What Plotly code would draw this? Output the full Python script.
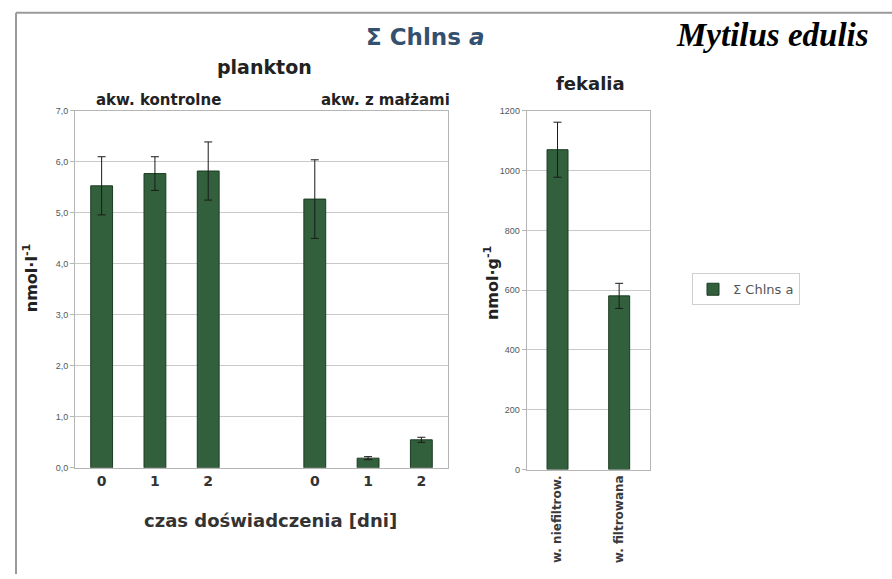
import plotly.graph_objects as go

# --- data -------------------------------------------------------------
days = ["0", "1", "2"]
control_vals = [5.53, 5.77, 5.82]
control_err = [0.57, 0.33, 0.57]
mussel_vals = [5.27, 0.19, 0.55]
mussel_err = [0.77, 0.03, 0.05]

feces_cats = ["w. niefiltrow.", "w. filtrowana"]
feces_vals = [1070, 581]
feces_err = [92, 42]

plankton_ticks = [0, 1, 2, 3, 4, 5, 6, 7]
plankton_ticktext = ["0,0", "1,0", "2,0", "3,0", "4,0", "5,0", "6,0", "7,0"]
feces_ticks = [0, 200, 400, 600, 800, 1000, 1200]

W, H = 892, 579
BAR = "#33603c"
EDGE = "#1c3a22"
SANS = "DejaVu Sans, Arial, sans-serif"
ARIAL = "Arial, Liberation Sans, sans-serif"


def px(x):
    return x / W


def py(y):
    return 1 - y / H


# control tanks occupy slots 0-2, mussel tanks slots 4-6 (slot 3 left empty)
x_control = list(range(len(days)))
x_mussel = [i + len(days) + 1 for i in range(len(days))]

fig = go.Figure()

err_style = dict(type="data", visible=True, color="#1a1a1a", thickness=1, width=4)

fig.add_trace(go.Bar(
    x=x_control, y=control_vals, width=0.41,
    error_y=dict(array=control_err, **err_style),
    marker=dict(color=BAR, line=dict(color=EDGE, width=1)),
    name="\u03a3 Chlns a", legendgroup="c", showlegend=True,
    xaxis="x", yaxis="y",
))
fig.add_trace(go.Bar(
    x=x_mussel, y=mussel_vals, width=0.41,
    error_y=dict(array=mussel_err, **err_style),
    marker=dict(color=BAR, line=dict(color=EDGE, width=1)),
    name="\u03a3 Chlns a", legendgroup="c", showlegend=False,
    xaxis="x", yaxis="y",
))
fig.add_trace(go.Bar(
    x=feces_cats, y=feces_vals, width=0.34,
    error_y=dict(array=feces_err, **err_style),
    marker=dict(color=BAR, line=dict(color=EDGE, width=1)),
    name="\u03a3 Chlns a", legendgroup="c", showlegend=False,
    xaxis="x2", yaxis="y2",
))

axis_line = "#b5b5b5"
grid = "#c9c9c9"
tick_font = dict(family=ARIAL, size=9, color="#555")

fig.update_layout(
    width=W, height=H,
    margin=dict(l=0, r=0, t=0, b=0),
    paper_bgcolor="white", plot_bgcolor="white",
    font=dict(family=ARIAL, color="#333"),
    xaxis=dict(
        domain=[px(75), px(448)], range=[-0.5, 6.5],
        tickvals=x_control + x_mussel, ticktext=days + days,
        tickfont=dict(family=SANS, size=14, color="#333", weight="bold"),
        showgrid=False, zeroline=False, showline=True, linecolor=axis_line, mirror=True,
        ticks="", fixedrange=True,
    ),
    yaxis=dict(
        domain=[py(471), py(107.7)], range=[0, 7],
        tickvals=plankton_ticks, ticktext=plankton_ticktext, tickfont=tick_font,
        showgrid=True, gridcolor=grid, zeroline=False,
        showline=True, linecolor=axis_line, mirror=True,
        ticks="outside", ticklen=4, tickcolor=axis_line,
    ),
    xaxis2=dict(
        domain=[px(526.7), px(650)], anchor="y2", type="category",
        tickangle=-90,
        tickfont=dict(family=SANS, size=12, color="#3a3a3a", weight="bold"),
        showgrid=False, zeroline=False, showline=True, linecolor=axis_line, mirror=True,
        ticks="",
    ),
    yaxis2=dict(
        domain=[py(472.7), py(107.7)], anchor="x2", range=[0, 1200],
        tickvals=feces_ticks, tickfont=tick_font,
        showgrid=True, gridcolor=grid, zeroline=False,
        showline=True, linecolor=axis_line, mirror=True,
        ticks="outside", ticklen=4, tickcolor=axis_line,
    ),
    showlegend=True,
    legend=dict(
        x=px(692), y=py(273), xanchor="left", yanchor="top",
        bordercolor="#cfcfcf", borderwidth=1, bgcolor="white",
        font=dict(family=SANS, size=13, color="#555"),
        itemwidth=30,
    ),
    bargap=0.5,
)

annotations = [
    dict(x=px(425), y=py(33), text="<b>\u03a3 Chlns <i>a</i></b>",
         font=dict(family=SANS, size=23, color="#34506f")),
    dict(x=px(772), y=py(31), text="<b><i>Mytilus edulis</i></b>",
         font=dict(family="Liberation Serif, Times New Roman, serif", size=33, color="#000")),
    dict(x=px(264), y=py(63), text="<b>plankton</b>",
         font=dict(family=SANS, size=19, color="#222")),
    dict(x=px(158), y=py(97), text="<b>akw. kontrolne</b>",
         font=dict(family=SANS, size=15, color="#222")),
    dict(x=px(385), y=py(97), text="<b>akw. z ma\u0142\u017cami</b>",
         font=dict(family=SANS, size=15, color="#222")),
    dict(x=px(590), y=py(80), text="<b>fekalia</b>",
         font=dict(family=SANS, size=18, color="#222")),
    dict(x=px(270), y=py(525), text="<b>czas do\u015bwiadczenia [dni]</b>",
         font=dict(family=SANS, size=18, color="#333")),
    dict(x=px(30), y=py(278), text="<b>nmol\u00b7l<sup>-1</sup></b>", textangle=-90,
         font=dict(family=SANS, size=16, color="#222")),
    dict(x=px(491), y=py(283), text="<b>nmol\u00b7g<sup>-1</sup></b>", textangle=-90,
         font=dict(family=SANS, size=16, color="#222")),
]
for a in annotations:
    a.update(xref="paper", yref="paper", showarrow=False, xanchor="center", yanchor="middle")
fig.update_layout(annotations=annotations)

# outer frame (top and left edges)
fig.add_shape(type="line", xref="paper", yref="paper",
              x0=px(16), y0=py(8), x1=1, y1=py(8), line=dict(color="#9a9a9a", width=2))
fig.add_shape(type="line", xref="paper", yref="paper",
              x0=px(16), y0=py(8), x1=px(16), y1=0, line=dict(color="#9a9a9a", width=2))

fig.write_html("out.html", config={"displayModeBar": False})
